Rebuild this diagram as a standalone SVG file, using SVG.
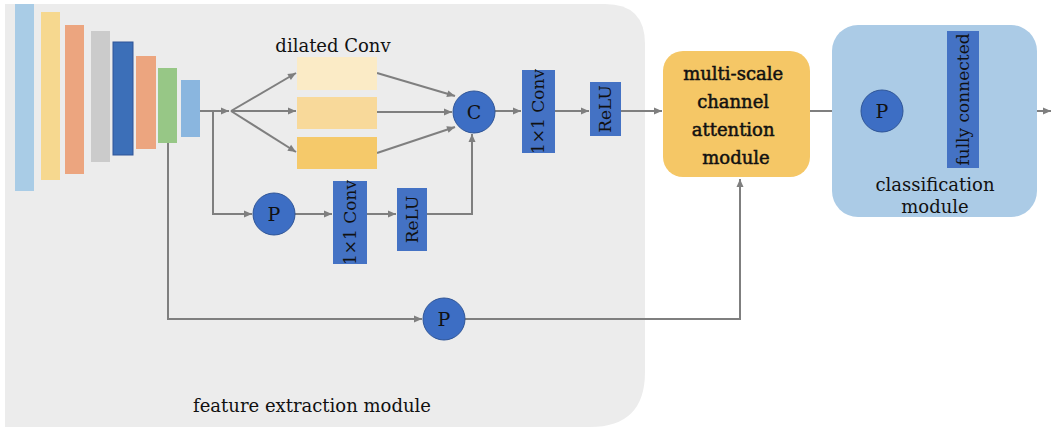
<svg xmlns="http://www.w3.org/2000/svg" width="1052" height="427" viewBox="0 0 1052 427">
<defs>
<style>
.t{font-family:"DejaVu Serif","Liberation Serif",serif;fill:#111}
.c{stroke:#7f7f7f;stroke-width:2;fill:none}
.blue{fill:#4472c4}
.circ{fill:#3d6ec4;stroke:#2f5597;stroke-width:1}
</style>
<marker id="ah" markerUnits="userSpaceOnUse" markerWidth="10" markerHeight="10" refX="9" refY="5" orient="auto">
<path d="M1,1.5 L9,5 L1,8.5 Z" fill="#7f7f7f"/>
</marker>
</defs>
<rect width="1052" height="427" fill="#ffffff"/>
<path id="bg" d="M5,4 H605 Q645,4 645,44 V372 Q645,427 590,427 H5 Z" fill="#ececec"/>
<g id="encoder">
<rect x="15" y="4" width="19" height="187" fill="#a9cce6"/>
<rect x="41" y="12" width="19" height="168" fill="#f6d88f"/>
<rect x="65" y="25" width="19" height="149" fill="#eca57f"/>
<rect x="91" y="31" width="19" height="131" fill="#cbcbcb"/>
<rect x="113" y="42" width="20" height="113" fill="#3c6fb8" stroke="#2f5597" stroke-width="1"/>
<rect x="136" y="56" width="20" height="93" fill="#eca57f"/>
<rect x="158" y="68" width="19" height="75" fill="#97c786"/>
<rect x="181" y="80" width="19" height="57" fill="#8ab6df"/>
</g>
<g id="connectors">
<path class="c" d="M200,111 H229" marker-end="url(#ah)"/>
<path class="c" d="M231,111 L296,73" marker-end="url(#ah)"/>
<path class="c" d="M231,111 H296" marker-end="url(#ah)"/>
<path class="c" d="M231,111 L296,152" marker-end="url(#ah)"/>
<path class="c" d="M377,73 L455,96" marker-end="url(#ah)"/>
<path class="c" d="M377,112 H452" marker-end="url(#ah)"/>
<path class="c" d="M377,153 L455,127" marker-end="url(#ah)"/>
<path class="c" d="M213,111 V214 H252" marker-end="url(#ah)"/>
<path class="c" d="M295,214 H332" marker-end="url(#ah)"/>
<path class="c" d="M367,214 H396" marker-end="url(#ah)"/>
<path class="c" d="M427,214 H472 V134" marker-end="url(#ah)"/>
<path class="c" d="M495,111 H521" marker-end="url(#ah)"/>
<path class="c" d="M555,111 H589" marker-end="url(#ah)"/>
<path class="c" d="M621,111 H662" marker-end="url(#ah)"/>
<path class="c" d="M168,143 V319 H422" marker-end="url(#ah)"/>
<path class="c" d="M465,319 H740 V179" marker-end="url(#ah)"/>
<path class="c" d="M810,111 H860" marker-end="url(#ah)"/>
<path class="c" d="M903,111 H946" marker-end="url(#ah)"/>
<path class="c" d="M979,111 H1051" marker-end="url(#ah)"/>
</g>
<g id="dilated">
<text class="t" x="333" y="52" font-size="18" text-anchor="middle">dilated Conv</text>
<rect x="297" y="57" width="80" height="33" fill="#fbebc6"/>
<rect x="297" y="97" width="80" height="32" fill="#f8d99a"/>
<rect x="297" y="137" width="80" height="32" fill="#f5c96a"/>
</g>
<g id="concat">
<circle class="circ" cx="474" cy="112" r="21"/>
<text class="t" x="474" y="119" font-size="19" text-anchor="middle">C</text>
</g>
<g id="pool1">
<circle class="circ" cx="274" cy="214" r="21"/>
<text class="t" x="274" y="221" font-size="19" text-anchor="middle">P</text>
</g>
<g id="conv-lower">
<rect class="blue" x="333" y="181" width="34" height="83"/>
<text class="t" font-size="17" text-anchor="middle" transform="translate(356,222.5) rotate(-90)">1×1 Conv</text>
</g>
<g id="relu-lower">
<rect class="blue" x="397" y="188" width="30" height="63"/>
<text class="t" font-size="17" text-anchor="middle" transform="translate(418,219.5) rotate(-90)">ReLU</text>
</g>
<g id="conv-upper">
<rect class="blue" x="522" y="70" width="33" height="83"/>
<text class="t" font-size="17" text-anchor="middle" transform="translate(544,111.5) rotate(-90)">1×1 Conv</text>
</g>
<g id="relu-upper">
<rect class="blue" x="590" y="82" width="31" height="54"/>
<text class="t" font-size="17" text-anchor="middle" transform="translate(611,109) rotate(-90)">ReLU</text>
</g>
<g id="pool2">
<circle class="circ" cx="444" cy="319" r="21"/>
<text class="t" x="444" y="326" font-size="19" text-anchor="middle">P</text>
</g>
<g id="attention">
<rect x="663" y="51" width="147" height="126" rx="20" fill="#f5c766"/>
<text class="t" font-size="18" stroke="#111" stroke-width="0.5" text-anchor="middle">
<tspan x="736" y="80">multi-scale</tspan>
<tspan x="736" y="108">channel</tspan>
<tspan x="736" y="136">attention</tspan>
<tspan x="736" y="164">module</tspan>
</text>
</g>
<g id="classification">
<rect x="832" y="25" width="205" height="192" rx="26" fill="#abcbe6"/>
<circle class="circ" cx="882" cy="111" r="21"/>
<text class="t" x="882" y="118" font-size="19" text-anchor="middle">P</text>
<rect class="blue" x="947" y="31" width="32" height="137"/>
<text class="t" font-size="17" text-anchor="middle" transform="translate(969,99.5) rotate(-90)">fully connected</text>
<text class="t" font-size="18" text-anchor="middle"><tspan x="935" y="191">classification</tspan><tspan x="935" y="213">module</tspan></text>
</g>
<text id="fe-label" class="t" x="312" y="412" font-size="18" text-anchor="middle">feature extraction module</text>
</svg>
